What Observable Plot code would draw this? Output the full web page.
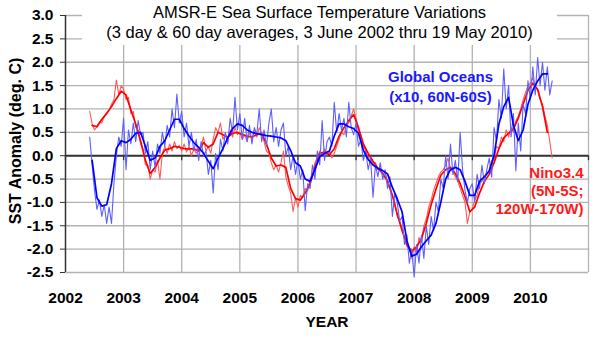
<!DOCTYPE html>
<html>
<head>
<meta charset="utf-8">
<script src="https://cdn.jsdelivr.net/npm/d3@7"></script>
<script src="https://cdn.jsdelivr.net/npm/@observablehq/plot@0.6"></script>
<style>
  html, body { margin: 0; padding: 0; background: #fff; }
  #wrap { position: relative; width: 595px; height: 342px; font-family: "Liberation Sans", Arial, sans-serif; }
  #title { position: absolute; left: 82px; top: 0; width: 475px; height: 45px; background: #fff;
           text-align: center; font-size: 16.5px; line-height: 20px; padding-top: 2px; box-sizing: border-box; color: #000; }
</style>
</head>
<body>
<div id="wrap">
  <div id="chart"></div>
  <div id="title"><div>AMSR-E Sea Surface Temperature Variations</div><div>(3 day &amp; 60 day averages, 3 June 2002 thru 19 May 2010)</div></div>
</div>
<script>
// ---- Data ----
// 60-day averages, monthly samples starting mid-June 2002
const smoothStart = 2002.4583;
const smoothStep = 1 / 12;
const ninoSmooth = [
  0.65, 0.62, 0.78, 0.9, 1.05, 1.22, 1.38,
  1.3, 0.98, 0.68, 0.32, -0.1, -0.38, -0.25, -0.05, 0.12, 0.15, 0.2, 0.18,
  0.15, 0.14, 0.15, 0.1, 0.28, 0.18, 0.25, 0.5, 0.45, 0.4, 0.48, 0.5,
  0.45, 0.42, 0.4, 0.45, 0.48, 0.25, -0.05, -0.22, -0.2, -0.25, -0.7, -0.92,
  -0.95, -0.8, -0.6, -0.25, 0.05, 0.08, 0.02, 0.15, 0.42, 0.6, 0.75, 0.88,
  0.6, 0.25, 0.05, -0.12, -0.27, -0.38, -0.55, -0.85, -1.25, -1.6, -1.9, -2.05,
  -1.95, -1.78, -1.45, -1.05, -0.72, -0.42, -0.3, -0.25, -0.38, -0.6, -0.88, -1.2,
  -1.1, -0.8, -0.55, -0.4, -0.15, 0.15, 0.38, 0.48, 0.58, 0.8, 1.1, 1.4,
  1.55, 1.42, 1.05, 0.5
];
const globalSmooth = [
  -0.1, -0.9, -1.08, -1.05, -0.6, 0.15, 0.32,
  0.28, 0.35, 0.48, 0.5, 0.2, -0.1, -0.05, 0.2, 0.32, 0.55, 0.78, 0.78,
  0.58, 0.42, 0.28, 0.18, 0.05, -0.12, -0.28, -0.05, 0.15, 0.38, 0.58, 0.68,
  0.65, 0.55, 0.5, 0.47, 0.45, 0.43, 0.42, 0.4, 0.38, 0.32, 0.11, -0.15,
  -0.22, -0.5, -0.55, -0.3, -0.02, 0.05, 0.1, 0.42, 0.68, 0.68, 0.62, 0.58,
  0.48, 0.12, -0.08, -0.2, -0.27, -0.32, -0.39, -0.68, -0.92, -1.2, -1.82, -2.15,
  -2.11, -1.95, -1.82, -1.7, -1.45, -1.0, -0.5, -0.3, -0.25, -0.3, -0.55, -0.85,
  -0.85, -0.55, -0.45, -0.33, 0.0, 0.68, 1.05, 1.25, 0.65, 0.32, 0.55, 1.1,
  1.4, 1.6, 1.75, 1.75
];
// 3-day averages, half-month samples starting early June 2002
const dailyStart = 2002.4167;
const dailyStep = 1 / 24;
const nino3day = [
  0.95, 0.68, 0.55, 0.62, 0.72, 0.7, 0.85, 0.92, 0.98, 1.1, 1.2, 1.62, 1.3, 1.5,
  1.42, 1.2, 1.25, 0.9, 0.95, 0.6, 0.55, 0.25, 0.15, -0.2, -0.2, -0.5, -0.3, -0.35, -0.1, -0.5, 0.05, 0.2, 0.05, 0.25, 0.1, 0.3, 0.15, 0.22,
  0.1, 0.25, 0.08, 0.2, 0.0, 0.15, 0.05, 0.15, 0.2, 0.4, 0.1, 0.2, 0.05, 0.35, 0.6, 0.5, 0.7, 0.35, 0.45, 0.3, 0.55, 0.4, 0.6, 0.45,
  0.5, 0.35, 0.45, 0.3, 0.5, 0.35, 0.55, 0.4, 0.6, 0.45, 0.3, 0.1, 0.05, -0.15, -0.3, -0.2, -0.35, -0.15, 0.1, -0.45, -0.65, -0.8, -1.2, -0.9,
  -1.1, -0.85, -0.9, -0.7, -0.75, -0.5, -0.4, -0.15, -0.05, 0.1, 0.0, 0.15, 0.0, 0.1, -0.05, 0.05, 0.2, 0.35, 0.5, 0.45, 0.65, 0.7, 0.85, 1.0,
  0.8, 0.5, 0.35, 0.2, 0.1, -0.05, -0.05, -0.2, -0.15, -0.3, -0.25, -0.4, -0.35, -0.55, -0.7, -0.85, -1.0, -1.3, -1.4, -1.55, -1.75, -1.95, -2.0, -2.2,
  -1.95, -2.1, -1.75, -1.85, -1.5, -1.35, -1.1, -0.95, -0.75, -0.6, -0.45, -0.35, -0.3, -0.2, -0.05, -0.3, -0.35, -0.45, -0.55, -0.7, -0.85, -1.0, -1.45, -1.2,
  -1.15, -0.95, -0.85, -0.6, -0.55, -0.45, -0.4, -0.3, -0.1, -0.1, 0.2, 0.15, 0.4, 0.3, 0.55, 0.4, 0.6, 0.5, 0.75, 0.85, 1.0, 1.2, 1.35, 1.5,
  1.55, 1.68, 1.45, 1.4, 1.2, 1.1, 0.85, 0.65, 0.3, -0.05
];
const global3day = [
  0.4, -0.2, -0.75, -1.15, -0.95, -1.3, -1.05, -1.45, -1.1, -1.45, -0.6, 0.0, 0.4, 0.2,
  0.8, -0.3, 0.55, 0.25, 0.7, 0.3, 0.75, 0.45, 0.5, 0.05, 0.3, -0.3, 0.1, -0.25, 0.25, 0.05, 0.5, 0.2, 0.65, 0.4, 1.0, 0.6, 1.32, 0.7,
  0.95, 0.4, 0.7, 0.2, 0.5, 0.1, 0.35, -0.1, 0.3, 0.0, 0.1, -0.4, -0.1, -0.8, 0.05, -0.3, 0.35, 0.1, 0.5, 0.25, 0.8, 0.5, 1.25, 0.55,
  0.9, 0.35, 0.8, 0.3, 0.65, 0.25, 0.6, 0.45, 1.0, 0.3, 0.55, 0.2, 0.7, 1.0, 0.3, 0.6, 0.2, 0.55, 0.7, 0.0, 0.2, -0.3, 0.0, -0.4,
  -0.1, -0.5, -0.3, -1.18, -0.6, -0.7, -0.2, -0.5, 0.1, -0.2, 0.75, -0.1, 0.3, 0.4, 0.2, 1.14, 0.5, 0.9, 0.55, 0.8, 0.4, 1.14, 0.6, 0.45,
  0.7, 0.2, 0.35, -0.1, 0.1, -0.3, -0.05, -0.89, -0.2, -0.45, -0.15, -0.5, -0.3, -0.7, -0.45, -1.3, -0.8, -1.0, -1.4, -1.3, -1.9, -1.7, -2.3, -2.0,
  -2.6, -1.9, -2.3, -1.7, -2.2, -1.5, -1.9, -1.3, -1.6, -1.0, -1.2, -0.5, -0.7, 0.0, -0.5, 0.25, -0.4, -0.1, -0.55, 0.5, -0.3, -0.75, -1.0, -0.7,
  -0.6, -1.0, -0.4, -0.7, -0.2, -0.6, -0.3, -0.05, -0.46, 0.6, 0.3, 1.2, 0.8, 1.86, 1.0, 1.5, 0.4, 0.9, -0.32, 0.7, 0.1, 1.1, 0.9, 1.6,
  1.2, 1.9, 1.3, 2.1, 1.5, 2.0, 1.4, 1.9, 1.3, 1.6
];
const yearTicks = [2002, 2003, 2004, 2005, 2006, 2007, 2008, 2009, 2010];
const gridYears = [2003, 2004, 2005, 2006, 2007, 2008, 2009, 2010, 2011];
const zeroTickYears = [2002, 2003, 2004, 2005, 2006, 2007, 2008, 2009, 2010, 2011];
const yTicks = [-2.5, -2.0, -1.5, -1.0, -0.5, 0.0, 0.5, 1.0, 1.5, 2.0, 2.5, 3.0];
const globalLabel = "Global Oceans\n(x10, 60N-60S)";
const ninoLabel = "Nino3.4\n(5N-5S;\n120W-170W)";
const yLabel = "SST Anomaly (deg. C)";
const xLabel = "YEAR";

// ---- Build tables ----
const toRows = (vals, start, step) => vals.map((v, i) => ({t: start + i * step, v}));
const ninoS = toRows(ninoSmooth, smoothStart, smoothStep);
const globS = toRows(globalSmooth, smoothStart, smoothStep);
const nino3 = toRows(nino3day, dailyStart, dailyStep);
const glob3 = toRows(global3day, dailyStart, dailyStep);

const grid = "#b2b2b2";
const axisCol = "#333333";
const font = "Liberation Sans, Arial, sans-serif";

const chart = Plot.plot({
  width: 595,
  height: 342,
  marginLeft: 65,
  marginRight: 7,
  marginTop: 15,
  marginBottom: 70,
  style: {fontFamily: font, background: "#fff", color: "#000"},
  x: {domain: [2002, 2011], label: null},
  y: {domain: [-2.5, 3.0], label: null},
  marks: [
    Plot.ruleY(yTicks, {stroke: grid, strokeWidth: 1.3}),
    Plot.ruleX(gridYears, {stroke: grid, strokeWidth: 1.3}),
    Plot.ruleY([0], {stroke: axisCol, strokeWidth: 2}),
    Plot.ruleX(zeroTickYears, {x: d => d, y1: 0, y2: 0, insetBottom: -5, stroke: axisCol, strokeWidth: 1.3}),
    Plot.ruleX([2002], {stroke: axisCol, strokeWidth: 1.5}),
    Plot.axisY({ticks: yTicks, tickFormat: d => d.toFixed(1), tickSize: 5, tickPadding: 7, stroke: axisCol,
                fontSize: 15.5, fontWeight: "bold", fill: "#000", label: null}),
    Plot.axisX({ticks: yearTicks, tickFormat: d => String(d), tickSize: 0, tickPadding: 19.5,
                fontSize: 15.5, fontWeight: "bold", fill: "#000", label: null}),
    Plot.line(nino3, {x: "t", y: "v", stroke: "#ff5a5a", strokeWidth: 1.1}),
    Plot.line(ninoS, {x: "t", y: "v", stroke: "#ff0000", strokeWidth: 1.7}),
    Plot.line(glob3, {x: "t", y: "v", stroke: "#5f5fff", strokeWidth: 1.1}),
    Plot.line(globS, {x: "t", y: "v", stroke: "#0000ff", strokeWidth: 1.7}),
    Plot.text([globalLabel], {frameAnchor: "top-left", dx: 375, dy: 51.6, textAnchor: "middle", lineAnchor: "top",
              lineHeight: 1.38, fontSize: 15, fontWeight: "bold", fill: "#1a1aff"}),
    Plot.text([ninoLabel], {frameAnchor: "top-right", dx: -5, dy: 149.3, textAnchor: "end", lineAnchor: "top",
              lineHeight: 1.22, fontSize: 15, fontWeight: "bold", fill: "#ff1a1a"}),
    Plot.text([yLabel], {frameAnchor: "left", dx: -49.5, dy: -3, rotate: -90, textAnchor: "middle", lineAnchor: "middle",
              fontSize: 16, fontWeight: "bold", fill: "#000"}),
    Plot.text([xLabel], {frameAnchor: "bottom", dy: 43.6, textAnchor: "middle", lineAnchor: "top",
              fontSize: 15.5, fontWeight: "bold", fill: "#000"})
  ]
});
document.getElementById("chart").appendChild(chart);
</script>
</body>
</html>
